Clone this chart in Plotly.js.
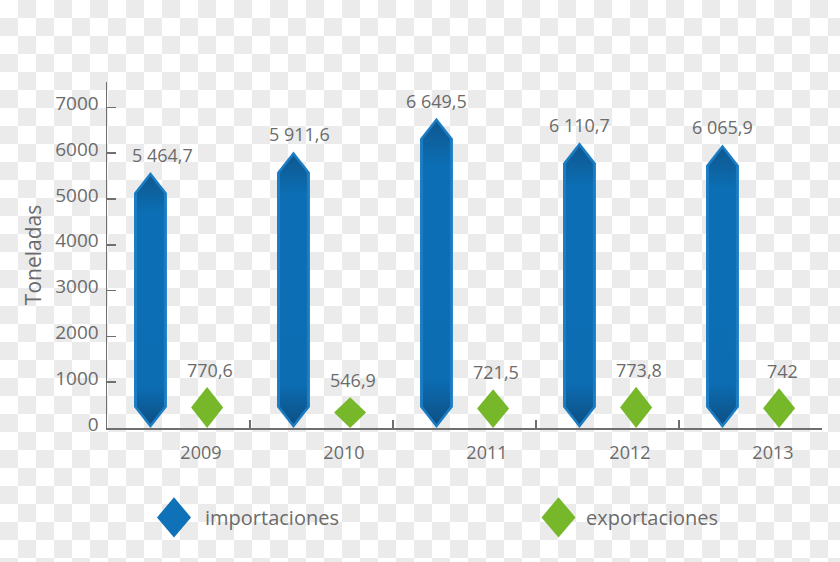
<!DOCTYPE html>
<html>
<head>
<meta charset="utf-8">
<script src="https://cdn.plot.ly/plotly-3.0.1.min.js"></script>
<style>
  html, body { margin: 0; padding: 0; }
  body {
    width: 840px; height: 562px; overflow: hidden;
    background-color: #ffffff;
    background-image: repeating-conic-gradient(#ebebeb 0 25%, #ffffff 0 50%);
    background-size: 36px 36px;
  }
  #chart { width: 840px; height: 562px; }
</style>
</head>
<body>
<div id="chart"></div>
<script>
// ---- data ----
const years = ['2009', '2010', '2011', '2012', '2013'];
const importaciones = [5464.7, 5911.6, 6649.5, 6110.7, 6065.9];
const exportaciones = [770.6, 546.9, 721.5, 773.8, 742];
const importLabels = ['5 464,7', '5 911,6', '6 649,5', '6 110,7', '6 065,9'];
const exportLabels = ['770,6', '546,9', '721,5', '773,8', '742'];
const yTickVals = [0, 1000, 2000, 3000, 4000, 5000, 6000, 7000];
const yTickText = ['0', '1000', '2000', '3000', '4000', '5000', '6000', '7000'];
const seriesNames = ['importaciones', 'exportaciones'];

// ---- style ----
const FONT = 'Open Sans, Noto Sans, sans-serif';
const TXT = '#6b6b6b';
const AX = '#6f6f6f';
const BLUE_EDGE = '#1a7cc2';
const GREEN = '#76b82a';
const BAR_OFF = -0.196, EXP_OFF = 0.2, LABEL_OFF = 0.157;
const HALF_W = 0.115, IN_HALF_W = 0.094;
const TIP = 125;        // extra height of the pointed tip (data units)
const SHOULDER = 459, IN_SHOULDER = 375, INSET = 90;
const D_HALF_W = 0.112;
const impLabelShift = [12, 6, 0, 0, 0];

const traces = [];
importaciones.forEach((v, i) => {
  const c = i + BAR_OFF;
  const top = v + TIP;
  traces.push({
    type: 'scatter', mode: 'lines', fill: 'toself',
    x: [c, c + HALF_W, c + HALF_W, c, c - HALF_W, c - HALF_W, c],
    y: [0, SHOULDER, top - SHOULDER, top, top - SHOULDER, SHOULDER, 0],
    line: { width: 0, color: BLUE_EDGE }, fillcolor: BLUE_EDGE,
    name: seriesNames[0], showlegend: false, hoverinfo: 'skip'
  });
  traces.push({
    type: 'scatter', mode: 'lines', fill: 'toself',
    x: [c, c + IN_HALF_W, c + IN_HALF_W, c, c - IN_HALF_W, c - IN_HALF_W, c],
    y: [INSET, INSET + IN_SHOULDER, top - INSET - IN_SHOULDER, top - INSET,
        top - INSET - IN_SHOULDER, INSET + IN_SHOULDER, INSET],
    line: { width: 0, color: '#0c6db3' },
    fillgradient: {
      type: 'vertical',
      colorscale: [[0, '#0d5085'], [0.15, '#0c6db3'], [0.85, '#0c6fb5'], [1, '#0e5890']]
    },
    name: seriesNames[0], showlegend: false, hoverinfo: 'skip'
  });
});
exportaciones.forEach((v, i) => {
  const c = i + EXP_OFF;
  const top = v + TIP;
  traces.push({
    type: 'scatter', mode: 'lines', fill: 'toself',
    x: [c, c + D_HALF_W, c, c - D_HALF_W, c],
    y: [0, top / 2, top, top / 2, 0],
    line: { width: 0, color: GREEN }, fillcolor: GREEN,
    name: seriesNames[1], showlegend: false, hoverinfo: 'skip'
  });
});

const annotations = [];
importaciones.forEach((v, i) => {
  annotations.push({
    x: i + BAR_OFF, y: v + TIP, xref: 'x', yref: 'y',
    text: importLabels[i], showarrow: false, yanchor: 'bottom',
    xshift: impLabelShift[i], yshift: 3,
    font: { family: FONT, size: 18, color: TXT }
  });
});
exportaciones.forEach((v, i) => {
  annotations.push({
    x: i + EXP_OFF, y: v + TIP, xref: 'x', yref: 'y',
    text: exportLabels[i], showarrow: false, yanchor: 'bottom',
    xshift: 3, yshift: 3,
    font: { family: FONT, size: 18, color: TXT }
  });
});
// legend texts
annotations.push({
  xref: 'paper', yref: 'paper', x: (203 - 107) / 715, y: (427.7 - 517) / 345.7,
  xanchor: 'left', yanchor: 'middle', text: seriesNames[0], showarrow: false,
  font: { family: FONT, size: 20, color: TXT }
});
annotations.push({
  xref: 'paper', yref: 'paper', x: (584 - 107) / 715, y: (427.7 - 517) / 345.7,
  xanchor: 'left', yanchor: 'middle', text: seriesNames[1], showarrow: false,
  font: { family: FONT, size: 20, color: TXT }
});

const layout = {
  width: 840, height: 562,
  paper_bgcolor: 'rgba(0,0,0,0)', plot_bgcolor: 'rgba(0,0,0,0)',
  margin: { l: 107, r: 18, t: 82, b: 134 },
  showlegend: false,
  font: { family: FONT, color: TXT },
  xaxis: {
    type: 'linear', range: [-0.5, 4.5], fixedrange: true,
    tickmode: 'array', tickvals: years.map((_, i) => i + LABEL_OFF), ticktext: years,
    ticks: '', showgrid: false, zeroline: false,
    showline: true, linecolor: AX, linewidth: 1.5,
    tickfont: { family: FONT, size: 18, color: TXT },
    ticklabelstandoff: 8,
    minor: {
      tickmode: 'array', tickvals: [0.5, 1.5, 2.5, 3.5],
      ticks: 'inside', ticklen: 8, tickwidth: 1.5, tickcolor: AX, showgrid: false
    }
  },
  yaxis: {
    range: [0, 7553], fixedrange: true,
    tickmode: 'array', tickvals: yTickVals, ticktext: yTickText,
    ticks: 'inside', ticklen: 9, tickwidth: 1.5, tickcolor: AX,
    showgrid: false, zeroline: false,
    showline: true, linecolor: AX, linewidth: 1.5,
    tickfont: { family: FONT, size: 19, color: TXT },
    ticklabelshift: -4, ticklabelstandoff: 3,
    title: { text: 'Toneladas', font: { family: FONT, size: 21, color: TXT }, standoff: 8 }
  },
  annotations: annotations,
  shapes: [
    { type: 'path', xref: 'paper', yref: 'paper', fillcolor: '#0f72b9', line: { width: 0 }, path: '' },
    { type: 'path', xref: 'paper', yref: 'paper', fillcolor: GREEN, line: { width: 0 }, path: '' }
  ]
};

// Legend diamonds in paper coordinates
function px2paperX(px) { return (px - 107) / 715; }
function px2paperY(py) { return (427.7 - py) / 345.7; }
function legendDiamond(cx, cy, hw, hh) {
  return 'M ' + px2paperX(cx) + ' ' + px2paperY(cy - hh) +
         ' L ' + px2paperX(cx + hw) + ' ' + px2paperY(cy) +
         ' L ' + px2paperX(cx) + ' ' + px2paperY(cy + hh) +
         ' L ' + px2paperX(cx - hw) + ' ' + px2paperY(cy) + ' Z';
}
layout.shapes[0].path = legendDiamond(174, 517, 17, 20);
layout.shapes[1].path = legendDiamond(558.5, 517, 17, 20);

Plotly.newPlot('chart', traces, layout, { displayModeBar: false, staticPlot: true });
</script>
</body>
</html>
